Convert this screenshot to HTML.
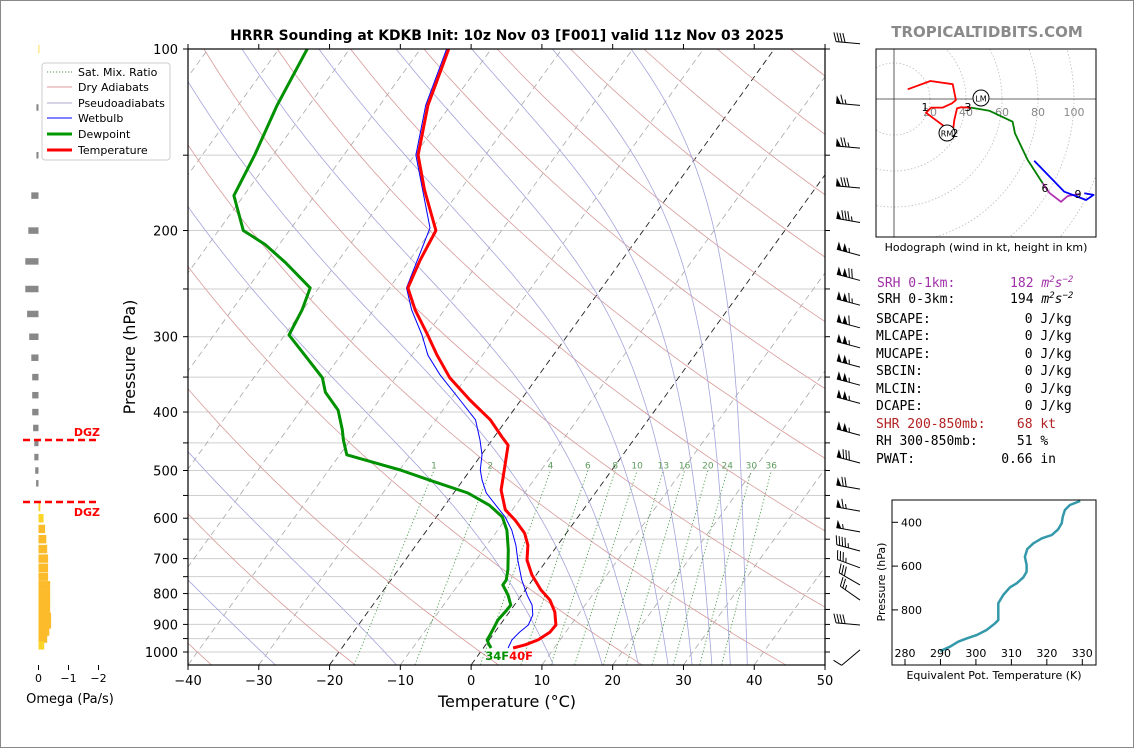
<!DOCTYPE html>
<html><head><meta charset="utf-8"><title>HRRR Sounding KDKB</title>
<style>
html,body{margin:0;padding:0;background:#fff;}
#wrap{width:1134px;height:748px;position:relative;overflow:hidden;}
svg text{font-family:"DejaVu Sans","Liberation Sans",sans-serif;}
.mono{font-family:"DejaVu Sans Mono","Liberation Mono",monospace;font-size:13px;white-space:pre;}
</style></head>
<body>
<div id="wrap">
<svg id="fig" width="1134" height="748" viewBox="0 0 1134 748" xmlns="http://www.w3.org/2000/svg">
<rect x="0.5" y="0.5" width="1133" height="747" fill="#fff" stroke="#888" stroke-width="1"/>
<defs><clipPath id="plotclip"><rect x="188" y="49" width="637" height="616"/></clipPath>
<clipPath id="hodoclip"><rect x="876" y="49" width="220" height="188"/></clipPath>
<clipPath id="theclip"><rect x="892" y="500" width="204" height="165"/></clipPath></defs>
<text x="507" y="40" text-anchor="middle" font-size="13.9" font-weight="bold">HRRR Sounding at KDKB Init: 10z Nov 03 [F001] valid 11z Nov 03 2025</text>
<text x="987" y="37" text-anchor="middle" font-size="15" font-weight="bold" fill="#8a8a8a">TROPICALTIDBITS.COM</text>
<g id="bg" clip-path="url(#plotclip)"></g>
<g id="series" clip-path="url(#plotclip)"></g>
<g id="axes"></g>
<g id="barbs"></g>
<g id="omega"></g>
<g id="hodo"></g>
<g id="thetae"></g>
<g id="stats">
<text class="mono" x="877" y="287" fill="#a030a8">SRH 0-1km:       182 <tspan font-style="italic">m</tspan><tspan font-size="9" dy="-5" font-style="italic">2</tspan><tspan dy="5" font-style="italic">s</tspan><tspan font-size="9" dy="-5" font-style="italic">−2</tspan></text>
<text class="mono" x="877" y="303" fill="#000">SRH 0-3km:       194 <tspan font-style="italic">m</tspan><tspan font-size="9" dy="-5" font-style="italic">2</tspan><tspan dy="5" font-style="italic">s</tspan><tspan font-size="9" dy="-5" font-style="italic">−2</tspan></text>
<text class="mono" x="876" y="323">SBCAPE:            0 J/kg</text>
<text class="mono" x="876" y="340">MLCAPE:            0 J/kg</text>
<text class="mono" x="876" y="358">MUCAPE:            0 J/kg</text>
<text class="mono" x="876" y="375">SBCIN:             0 J/kg</text>
<text class="mono" x="876" y="393">MLCIN:             0 J/kg</text>
<text class="mono" x="876" y="410">DCAPE:             0 J/kg</text>
<text class="mono" x="876" y="428" fill="#b22222">SHR 200-850mb:    68 kt</text>
<text class="mono" x="876" y="445">RH 300-850mb:     51 %</text>
<text class="mono" x="876" y="463">PWAT:           0.66 in</text>
</g>
<g id="legend">
<rect x="42" y="63" width="128" height="97" rx="3" fill="#fff" fill-opacity="0.9" stroke="#ccc"/>
<line x1="47" y1="72" x2="72" y2="72" stroke="#4a9a4a" stroke-dasharray="1.2,1.8"/>
<text x="78" y="76" font-size="11">Sat. Mix. Ratio</text>
<line x1="47" y1="87" x2="72" y2="87" stroke="#d99" stroke-width="1"/>
<text x="78" y="91" font-size="11">Dry Adiabats</text>
<line x1="47" y1="103" x2="72" y2="103" stroke="#aac" stroke-width="1"/>
<text x="78" y="107" font-size="11">Pseudoadiabats</text>
<line x1="47" y1="118" x2="72" y2="118" stroke="#00f" stroke-width="1"/>
<text x="78" y="122" font-size="11">Wetbulb</text>
<line x1="47" y1="134" x2="72" y2="134" stroke="#090" stroke-width="3"/>
<text x="78" y="138" font-size="11">Dewpoint</text>
<line x1="47" y1="150" x2="72" y2="150" stroke="#f00" stroke-width="3"/>
<text x="78" y="154" font-size="11">Temperature</text>
</g>
</svg>
</div>
<script>
// ---- sounding data ----
const tempP = [100,124,150,171,200,224,249,271,298,322,351,382,412,440,454,490,539,581,604,635,665,704,745,789,820,858,902,927,955,973,985];
const tempC = [-66.0,-63.2,-59.5,-55.1,-49.3,-48.5,-47.4,-44.1,-39.8,-36.4,-32.3,-27.2,-22.3,-18.9,-17.2,-15.6,-13.6,-11.0,-8.6,-5.9,-4.2,-2.8,-0.6,2.2,4.5,6.4,7.9,7.8,6.9,5.6,4.2];
const dewP = [100,124,150,175,200,211,226,249,271,298,322,351,371,397,428,445,471,499,519,545,571,597,628,677,731,760,774,805,836,858,885,909,937,955,973,985];
const dewC = [-86.0,-84.5,-82.6,-81.4,-76.5,-72.0,-67.3,-61.2,-60.1,-59.4,-55.1,-50.3,-48.4,-44.8,-42.2,-41.0,-39.0,-29.9,-24.7,-18.0,-13.7,-10.7,-8.7,-6.5,-4.5,-3.7,-3.7,-1.9,-0.5,-0.6,-0.8,-0.6,-0.4,-0.3,0.5,1.1];
const wbP = [100,124,150,198,249,271,298,322,347,382,412,445,471,499,519,545,571,597,628,665,704,760,805,836,868,902,927,955,985];
const wbC = [-66.3,-63.5,-59.8,-50.4,-47.6,-44.6,-40.6,-37.7,-34.0,-28.6,-24.4,-21.7,-19.9,-18.6,-17.3,-15.4,-12.8,-10.3,-8.0,-5.9,-4.1,-1.5,0.8,2.5,3.6,4.0,3.5,3.2,3.5];
// background families
const isobars = [100,150,200,250,300,350,400,450,500,550,600,650,700,750,800,850,900,950,1000];
const pTickLabels = [100,200,300,400,500,600,700,800,900,1000];
const tTicks = [-40,-30,-20,-10,0,10,20,30,40,50];
const dryThetaC = [-40,-20,0,20,40,60,80,100,120,140,160,180,200,220,240,260];
const moistStartC = [-125,-105,-85,-65,-46,-27.7,-10.6,11.6,18.5,23.6,27.8,31.2,34.0,36.6,39.0];
const mixRatios = [1,2,4,6,8,10,13,16,20,24,30,36];
const highlightIsotherms = [-20,0];
// wind barbs
const barbP = [98,124,146,170,194,220,242,266,290,313,337,361,387,437,486,537,584,632,680,725,774,820,902,992];
const barbSpd = [40,65,75,80,85,105,120,115,110,105,105,105,105,105,80,70,65,55,45,35,30,25,40,10];
const barbDir = [275,275,275,275,280,285,285,285,285,285,285,285,285,285,285,280,280,280,285,290,300,305,275,230];
// omega
const omegaP = [100,125,150,175,200,225,250,275,300,325,350,375,400,425,450,475,500,525,550,575,600,625,650,675,700,725,750,775,800,825,850,875,900,925,950,975];
const omegaV = [-0.02,0.07,0.07,0.24,0.34,0.44,0.44,0.38,0.31,0.24,0.21,0.21,0.21,0.18,0.14,0.14,0.11,0.08,0.0,-0.06,-0.17,-0.22,-0.26,-0.29,-0.32,-0.32,-0.32,-0.39,-0.39,-0.39,-0.39,-0.42,-0.42,-0.36,-0.29,-0.19];
const dgzP = [445,564];
const omegaTicks = [0,-1,-2];
// hodograph (kt)
const hodoRedU = [7.6,20.2,32.6,34.4,32.2,27.1,20.6,17.8,32.6,33.5,35.0,37.2,42.8];
const hodoRedV = [5.4,10.0,8.2,-0.6,-2.4,-4.8,-4.8,-7.6,-18.7,-11.7,-5.2,-4.6,-4.8];
const hodoGreenU = [42.8,52.9,65.9,67.2,74.3,82.6];
const hodoGreenV = [-4.8,-6.5,-12.6,-19.1,-33.9,-46.8];
const hodoMagU = [82.6,86.3,92.8,96.5,102.9];
const hodoMagV = [-46.8,-52.1,-57.1,-53.9,-52.8];
const hodoBlueU = [77.9,94.6,106.7,110.9,105.7];
const hodoBlueV = [-34.3,-51.5,-56.1,-53.3,-52.4];
const hodoRings = [20,40,60,80,100,120,140];
const hodoRingLabels = [20,40,60,80,100];
// theta-e
const thetaE = [329.4,326.5,325.1,324.5,324.2,323.2,321.4,318.6,316.2,314.5,313.8,314.3,314.3,313.4,311.5,309.6,307.7,306.3,306.3,305.4,303.0,300.2,297.4,295.0,292.7,289.9];
const thetaEP = [302.7,321,344,374,404.6,432,458,473,496,522,557,595,626,651,678.5,697,732,770,846,861,892,915,930,945,968,988];
const thetaTicks = [280,290,300,310,320,330];
const thetaPTicks = [400,600,800];

const NS = "http://www.w3.org/2000/svg";
function mk(parent, tag, attrs){ const e=document.createElementNS(NS,tag); for(const k in attrs) e.setAttribute(k,attrs[k]); parent.appendChild(e); return e; }
// axis functions
const yP = p => 49 + 603*Math.log10(p/100);
const xTP = (T,p) => 188 + (T+40)*7.078 + 0.722*(665 - yP(p));
function pathFrom(ps, ts){ let d=""; for(let i=0;i<ps.length;i++){ d += (i?"L":"M") + xTP(ts[i],ps[i]).toFixed(1)+","+yP(ps[i]).toFixed(1); } return d; }

const bg = document.getElementById('bg');
isobars.forEach(p=>{
  const l = mk(bg,'line',{x1:188,x2:825,y1:yP(p),y2:yP(p),stroke:'#cfcfcf','stroke-width':1});
  
  
});
for(let T=-130;T<=50;T+=10){
  const l = mk(bg,'line',{x1:xTP(T,1050),y1:yP(1050),x2:xTP(T,100),y2:yP(100),stroke:highlightIsotherms.includes(T)?'#222':'#a8a8a8','stroke-width':highlightIsotherms.includes(T)?0.9:0.8,'stroke-dasharray':'6,4'});
  
  
}
dryThetaC.forEach(th=>{
  const ps=[],ts=[]; for(let p=1050;p>=100;p-=10){ ps.push(p); ts.push((th+273.15)*Math.pow(p/1000,0.2857)-273.15); }
  const e = mk(bg,'path',{d:pathFrom(ps,ts),fill:'none',stroke:'#d89a9a','stroke-width':0.8});
  
  
});
function moistRate(T,p){ const Tc=T-273.15; const es=6.112*Math.exp(17.67*Tc/(Tc+243.5)); const rs=0.622*es/(p-es);
  return (287.04*T + 2.501e6*rs)/(1005.7 + 2.501e6*2.501e6*rs*0.622/(287.04*T*T))/p; }
moistStartC.forEach(t0=>{
  const ps=[],ts=[]; let T=t0+273.15; let p=1050;
  while(p>=100){ ps.push(p); ts.push(T-273.15); const dp=-5; const k1=moistRate(T,p); const k2=moistRate(T+k1*dp/2,p+dp/2); T+=k2*dp; p+=dp; }
  const e = mk(bg,'path',{d:pathFrom(ps,ts),fill:'none',stroke:'#a4a4dc','stroke-width':0.8});
  
  
});
function tdFromW(w,p){ const e=w*p/(622+w); const L=Math.log(e/6.112); return 243.5*L/(17.67-L); }
mixRatios.forEach(w=>{
  const e = mk(bg,'line',{x1:xTP(tdFromW(w,1050),1050),y1:yP(1050),x2:xTP(tdFromW(w,500),500),y2:yP(500),stroke:'#4a9a4a','stroke-width':0.9,'stroke-dasharray':'1.2,2.2'});
  
  
  const t = mk(bg,'text',{x:xTP(tdFromW(w,500),500),y:yP(500)-2,'text-anchor':'middle','font-size':9,fill:'#5c9c5c'});
  t.textContent = w;
  
  
});
const ser = document.getElementById('series');
const dewLine = mk(ser,'path',{d:pathFrom(dewP,dewC),fill:'none',stroke:'#009100','stroke-width':3,'stroke-linejoin':'round'});


const wbLine = mk(ser,'path',{d:pathFrom(wbP,wbC),fill:'none',stroke:'#0000ff','stroke-width':1,'stroke-linejoin':'round'});


const tLine = mk(ser,'path',{d:pathFrom(tempP,tempC),fill:'none',stroke:'#ff0000','stroke-width':3,'stroke-linejoin':'round'});


const sfcP = tempP[tempP.length-1];
const labX = xTP(dewC[dewC.length-1],sfcP)+18;
const tdLab = mk(ser,'text',{x:labX,y:yP(sfcP)+12,'text-anchor':'end','font-size':11.5,'font-weight':'bold',fill:'#009100'});
tdLab.textContent = Math.round(dewC[dewC.length-1]*9/5+32)+"F";


const tLab = mk(ser,'text',{x:labX,y:yP(sfcP)+12,'font-size':11.5,'font-weight':'bold',fill:'#ff0000'});
tLab.textContent = Math.round(tempC[tempC.length-1]*9/5+32)+"F";



const ax = document.getElementById('axes');
const frame = mk(ax,'rect',{x:188,y:49,width:637,height:616,fill:'none',stroke:'#000','stroke-width':1.2});


isobars.forEach(p=>{
  const t1 = mk(ax,'line',{x1:183,x2:188,y1:yP(p),y2:yP(p),stroke:'#000'});
  
  
  const t2 = mk(ax,'line',{x1:825,x2:830,y1:yP(p),y2:yP(p),stroke:'#000'});
  
  
});
pTickLabels.forEach(p=>{
  const t = mk(ax,'text',{x:178,y:yP(p)+5,'text-anchor':'end','font-size':13});
  t.textContent = p;
  
  
});
tTicks.forEach(T=>{
  const x = 188+(T+40)*7.078;
  const a = mk(ax,'line',{x1:x,x2:x,y1:665,y2:670,stroke:'#000'});
  
  
  const b = mk(ax,'line',{x1:x,x2:x,y1:44,y2:49,stroke:'#000'});
  
  
  const t = mk(ax,'text',{x:x,y:685,'text-anchor':'middle','font-size':13});
  t.textContent = T<0 ? '\u2212'+(-T) : T;
  
  
});
const xt = mk(ax,'text',{x:507,y:707,'text-anchor':'middle','font-size':16});
xt.textContent = 'Temperature (\u00B0C)';


const yt = mk(ax,'text',{x:0,y:0,'text-anchor':'middle','font-size':16,transform:'translate(135,357) rotate(-90)'});
yt.textContent = 'Pressure (hPa)';



const bb = document.getElementById('barbs');
barbP.forEach((p,i)=>{
  const g = mk(bb,'g',{});
  
  
  const sx=860, sy=Math.min(yP(p),665), L=24, d=barbDir[i]*Math.PI/180;
  const ux=Math.sin(d), uy=-Math.cos(d), nx=-uy, ny=ux;
  const tx=sx+ux*L, ty=sy+uy*L;
  mk(g,'line',{x1:sx,y1:sy,x2:tx,y2:ty,stroke:'#000','stroke-width':1});
  let s=barbSpd[i], pos=0;
  while(s>=50){ const ax1=tx-ux*pos, ay1=ty-uy*pos, ax2=tx-ux*(pos+5), ay2=ty-uy*(pos+5);
    mk(g,'polygon',{points:`${ax1},${ay1} ${ax2},${ay2} ${ax1+nx*8},${ay1+ny*8}`,fill:'#000'}); pos+=6; s-=50; }
  if(pos>0) pos+=1;
  while(s>=10){ const bx=tx-ux*pos, by=ty-uy*pos; mk(g,'line',{x1:bx,y1:by,x2:bx+nx*9+ux*3,y2:by+ny*9+uy*3,stroke:'#000','stroke-width':1}); pos+=3; s-=10; }
  if(s>=5){ const bx=tx-ux*pos, by=ty-uy*pos; mk(g,'line',{x1:bx,y1:by,x2:bx+nx*4.5+ux*1.5,y2:by+ny*4.5+uy*1.5,stroke:'#000','stroke-width':1}); }
});

const om = document.getElementById('omega');
const ox = v => 38.5 - v*30;
omegaP.forEach((p,i)=>{
  const v=omegaV[i]; if(v===0) return;
  const x1=Math.min(ox(0),ox(v)), w=Math.abs(ox(v)-ox(0));
  const col = v>0 ? '#888888' : (Math.abs(v)<0.2 ? '#fcd428' : '#fbbb2a');
  const r = mk(om,'rect',{x:x1,y:yP(p)-(v>0?3.2:4.2),width:Math.max(w,0.8),height:v>0?6.5:8.4,fill:col});
  
  
});
dgzP.forEach((p,i)=>{
  const l = mk(om,'line',{x1:23,x2:99,y1:yP(p),y2:yP(p),stroke:'#ff0000','stroke-width':2.5,'stroke-dasharray':'7,4'});
  
  
  const t = mk(om,'text',{x:100,y:i===0?yP(p)-4:yP(p)+14,'text-anchor':'end','font-size':11,'font-weight':'bold',fill:'#ff0000'});
  t.textContent='DGZ';
  
  
});
omegaTicks.forEach(v=>{
  const l = mk(om,'line',{x1:ox(v),x2:ox(v),y1:665,y2:670,stroke:'#000'});
  
  
  const t = mk(om,'text',{x:ox(v),y:682,'text-anchor':'middle','font-size':11});
  t.textContent = v<0 ? '\u2212'+(-v) : v;
  
  
});
const ot = mk(om,'text',{x:70,y:703,'text-anchor':'middle','font-size':13});
ot.textContent='Omega (Pa/s)';



const hd = document.getElementById('hodo');
const HX=894, HY=99, HS=1.8;
const hx=u=>HX+u*HS, hy=v=>HY-v*HS;
const hclip = mk(hd,'g',{'clip-path':'url(#hodoclip)'});


hodoRings.forEach(r=>{
  const c = mk(hclip,'circle',{cx:HX,cy:HY,r:r*HS,fill:'none',stroke:'#bbb','stroke-width':0.8,'stroke-dasharray':'1.5,2'});
  
  
});
const ha1 = mk(hclip,'line',{x1:HX,x2:HX,y1:49,y2:237,stroke:'#333','stroke-width':0.8});


const ha2 = mk(hclip,'line',{x1:876,x2:1096,y1:HY,y2:HY,stroke:'#333','stroke-width':0.8});


hodoRingLabels.forEach(r=>{
  const t = mk(hclip,'text',{x:HX+r*HS,y:HY+17,'text-anchor':'middle','font-size':11,fill:'#888'});
  t.textContent=r;
  
  
});
function hodoPath(us,vs,col,name){
  let d=''; us.forEach((u,i)=>{ d+=(i?'L':'M')+hx(u).toFixed(1)+','+hy(vs[i]).toFixed(1); });
  const e = mk(hclip,'path',{d:d,fill:'none',stroke:col,'stroke-width':1.8,'stroke-linejoin':'round'});
  
  
}
hodoPath(hodoRedU,hodoRedV,'#ff0000','hodograph-0-3km');
hodoPath(hodoGreenU,hodoGreenV,'#008000','hodograph-3-6km');
hodoPath(hodoMagU,hodoMagV,'#b030b0','hodograph-6-9km');
hodoPath(hodoBlueU,hodoBlueV,'#0000ff','hodograph-9km-plus');
[['1',925,111],['3',968,111],['6',1045,192],['9',1078,198]].forEach(a=>{
  const t = mk(hclip,'text',{x:a[1],y:a[2],'text-anchor':'middle','font-size':11});
  t.textContent=a[0];
  
  
});
const rm = mk(hclip,'circle',{cx:947,cy:133,r:8,fill:'#fff',stroke:'#000'});


const rmt = mk(hclip,'text',{x:947,y:136.5,'text-anchor':'middle','font-size':8});
rmt.textContent='RM';


const t2 = mk(hclip,'text',{x:955,y:137,'text-anchor':'middle','font-size':11});
t2.textContent='2';


const lm = mk(hclip,'circle',{cx:981,cy:98,r:8,fill:'#fff',stroke:'#000'});


const lmt = mk(hclip,'text',{x:981,y:101.5,'text-anchor':'middle','font-size':8});
lmt.textContent='LM';


const hb = mk(hd,'rect',{x:876,y:49,width:220,height:188,fill:'none',stroke:'#000','stroke-width':1});


const htl = mk(hd,'text',{x:986,y:251,'text-anchor':'middle','font-size':11});
htl.textContent='Hodograph (wind in kt, height in km)';



const te = document.getElementById('thetae');
const tx = th => 905 + (th-280)*3.546;
const ty = p => 522.3 + (p-400)*0.219;
let td=''; thetaE.forEach((th,i)=>{ td+=(i?'L':'M')+tx(th).toFixed(1)+','+ty(thetaEP[i]).toFixed(1); });
const tel = mk(te,'path',{d:td,fill:'none',stroke:'#3399aa','stroke-width':2.5,'clip-path':'url(#theclip)','stroke-linejoin':'round'});


const tf = mk(te,'rect',{x:892,y:500,width:204,height:165,fill:'none',stroke:'#000','stroke-width':1});


thetaTicks.forEach(th=>{
  const l = mk(te,'line',{x1:tx(th),x2:tx(th),y1:665,y2:659,stroke:'#000'});
  
  
  const t = mk(te,'text',{x:tx(th),y:657,'text-anchor':'middle','font-size':11});
  t.textContent=th;
  
  
});
thetaPTicks.forEach(p=>{
  const l = mk(te,'line',{x1:892,x2:898,y1:ty(p),y2:ty(p),stroke:'#000'});
  
  
  const t = mk(te,'text',{x:901,y:ty(p)+4,'font-size':11});
  t.textContent=p;
  
  
});
const tex = mk(te,'text',{x:994,y:679,'text-anchor':'middle','font-size':11});
tex.textContent='Equivalent Pot. Temperature (K)';


const tey = mk(te,'text',{x:0,y:0,'text-anchor':'middle','font-size':11,transform:'translate(885,582) rotate(-90)'});
tey.textContent='Pressure (hPa)';


</script>
</body></html>
